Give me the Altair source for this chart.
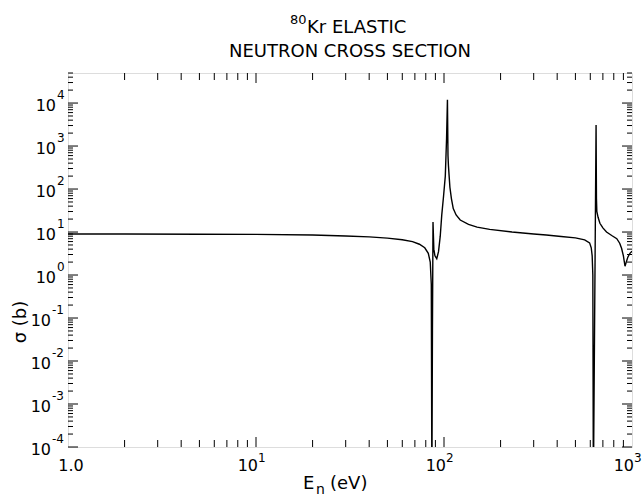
import altair as alt
import pandas as pd

# ---- curve data ----
energy = [1.0, 2.0, 5.0, 10.0, 20.0, 30.0, 40.0, 50.0, 60.0, 68.0, 74.0, 79.0,
          82.5, 84.5, 85.6, 86.2, 86.8, 87.4, 88.3, 89.5, 91.5, 93.5, 95.5,
          97.3, 99.5, 101.6, 103.2, 104.3, 105.0, 105.6, 106.5, 107.5, 109.5,
          112.0, 116.0, 122.0, 135.0, 150.0, 175.0, 230.0, 300.0, 350.0, 420.0,
          500.0, 560.0, 595.0, 607.0, 614.0, 619.0, 623.0, 644.0, 647.0, 650.0,
          660.0, 675.0, 700.0, 732.0, 780.0, 830.0, 860.0, 880.0, 900.0, 918.0,
          932.0, 950.0, 975.0, 1000.0]
sigma = [9.0, 9.0, 8.9, 8.8, 8.5, 8.1, 7.7, 7.2, 6.6, 6.0, 5.2, 4.3,
         3.2, 2.0, 0.6, 1e-5, 0.05, 17.0, 4.0, 2.8, 2.4, 3.5, 8.0,
         25.0, 70.0, 200.0, 1500.0, 12000.0, 600.0, 350.0, 200.0, 110.0, 60.0,
         35.0, 25.0, 19.0, 15.0, 13.0, 11.5, 10.0, 9.0, 8.5, 7.9,
         7.3, 6.6, 5.6, 4.3, 2.8, 1.0, 1e-5, 3100.0, 60.0, 30.0,
         22.0, 16.0, 12.5, 10.0, 8.3, 7.0, 5.5, 4.2, 2.8, 1.6,
         2.0, 2.6, 3.2, 3.6]

# ---- axis tick values and labels ----
x_major_ticks = [10, 100]
x_minor_ticks = [2, 3, 4, 5, 6, 7, 8, 9,
                 20, 30, 40, 50, 60, 70, 80, 90,
                 200, 300, 400, 500, 600, 700, 800, 900]
x_pow_values = [10, 100, 1000]
x_pow_sup = ["1", "2", "3"]
x_first_value = [1]
x_first_label = ["1.0"]

y_pos_decades = [1e0, 1e1, 1e2, 1e3, 1e4]
y_pos_sup = ["0", "1", "2", "3", "4"]
y_neg_decades = [1e-4, 1e-3, 1e-2, 1e-1]
y_neg_sup = ["-4", "-3", "-2", "-1"]
y_decades = y_neg_decades + y_pos_decades
y_minor_mult = [2, 3, 4, 5, 6, 7, 8, 9]
y_top = 5e4
y_minor_ticks = [m * d for d in y_decades for m in y_minor_mult if m * d <= y_top]

W, H = 564, 374
FONT = "DejaVu Sans"
BASE = 16
SUP = 12

curve = pd.DataFrame({"E": energy, "sigma": sigma})
xs = alt.Scale(type="log", domain=[1, 1000], nice=False)
ys = alt.Scale(type="log", domain=[1e-4, y_top], nice=False)

def X(field="E"):
    return alt.X(f"{field}:Q", scale=xs, axis=None)

def Y(field="sigma"):
    return alt.Y(f"{field}:Q", scale=ys, axis=None)

line = alt.Chart(curve).mark_line(color="black", strokeWidth=1.4, clip=True).encode(
    x=X(), y=Y(), order="E:Q")

def xticks(vals, length):
    df = pd.DataFrame({"E": vals})
    bottom = alt.Chart(df).mark_rule(color="black", strokeWidth=1).encode(
        x=X(), y=alt.value(H), y2=alt.value(H - length))
    top = alt.Chart(df).mark_rule(color="black", strokeWidth=1).encode(
        x=X(), y=alt.value(0), y2=alt.value(length))
    return [bottom, top]

def yticks(vals, length):
    df = pd.DataFrame({"sigma": vals})
    left = alt.Chart(df).mark_rule(color="black", strokeWidth=1).encode(
        y=Y(), x=alt.value(0), x2=alt.value(length))
    right = alt.Chart(df).mark_rule(color="black", strokeWidth=1).encode(
        y=Y(), x=alt.value(W), x2=alt.value(W - length))
    return [left, right]

def txt(**kw):
    base = dict(font=FONT, color="black", fontWeight="normal")
    base.update(kw)
    return base

# x tick labels
x_base = alt.Chart(pd.DataFrame({"E": x_pow_values, "t": ["10"] * 3})).mark_text(
    **txt(fontSize=BASE, align="right", baseline="alphabetic", dx=2)
).encode(x=X(), y=alt.value(H + 24), text="t:N")
x_sup = alt.Chart(pd.DataFrame({"E": x_pow_values, "t": x_pow_sup})).mark_text(
    **txt(fontSize=SUP, align="left", baseline="alphabetic", dx=2)
).encode(x=X(), y=alt.value(H + 15), text="t:N")
x_first = alt.Chart(pd.DataFrame({"E": x_first_value, "t": x_first_label})).mark_text(
    **txt(fontSize=BASE, align="center", baseline="alphabetic", dx=3)
).encode(x=X(), y=alt.value(H + 24), text="t:N")

# y tick labels
def y_labels(decades, sups, xpos):
    base = alt.Chart(pd.DataFrame({"sigma": decades, "t": ["10"] * len(decades)})).mark_text(
        **txt(fontSize=BASE, align="right", baseline="middle", dy=3)
    ).encode(y=Y(), x=alt.value(xpos), text="t:N")
    sup = alt.Chart(pd.DataFrame({"sigma": decades, "t": sups})).mark_text(
        **txt(fontSize=SUP, align="left", baseline="middle", dy=-8)
    ).encode(y=Y(), x=alt.value(xpos + 1), text="t:N")
    return [base, sup]

# titles
def label(text, x, y, size, align="left", angle=0):
    kw = txt(fontSize=size, align=align, baseline="alphabetic")
    if angle:
        kw["angle"] = angle
    return alt.Chart(pd.DataFrame({"t": [text]})).mark_text(**kw).encode(
        x=alt.value(x), y=alt.value(y), text="t:N")

titles = [
    label("80", 222, -49, 13),
    label("Kr ELASTIC", 239, -40, 18),
    label("NEUTRON CROSS SECTION", 282, -16, 18, align="center"),
    label("E", 235, H + 42, 18),
    label("n", 248, H + 47, 14),
    label("(eV)", 262, H + 42, 18),
    label("σ (b)", -42, 249, 18, align="center", angle=270),
]

layers = [line] + xticks(x_major_ticks, 10) + xticks(x_minor_ticks, 7) \
    + yticks(y_decades, 10) + yticks(y_minor_ticks, 5) \
    + [x_base, x_sup, x_first] \
    + y_labels(y_pos_decades, y_pos_sup, -12) \
    + y_labels(y_neg_decades, y_neg_sup, -17) + titles

chart = alt.layer(*layers).properties(
    width=W, height=H,
    autosize=alt.AutoSizeParams(type="none"),
    padding={"left": 68, "top": 73, "right": 11, "bottom": 51},
).configure_view(stroke="black", strokeWidth=1.5).configure(background="white")

chart.save("out.html", embed_options={"renderer": "svg", "actions": False})
